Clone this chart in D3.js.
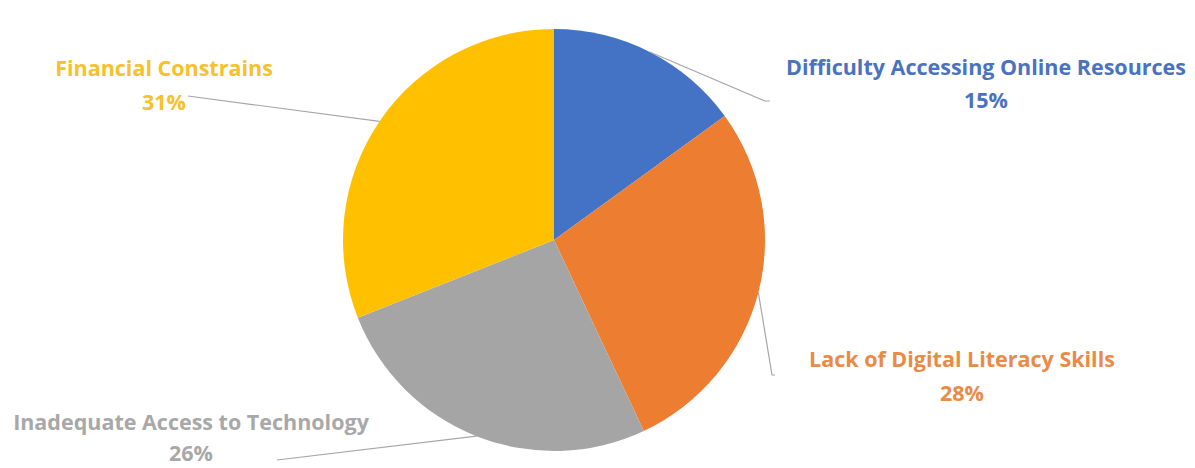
<!DOCTYPE html>
<html>
<head>
<meta charset="utf-8">
<script src="https://cdn.jsdelivr.net/npm/d3@7"></script>
<style>
  html, body { margin: 0; padding: 0; background: #ffffff; }
  svg { display: block; }
  text { font-family: "Open Sans", Lato, sans-serif; font-weight: 700; }
</style>
</head>
<body>
<svg id="chart" width="1195" height="468"></svg>
<script>
// ---- data ----
const categories = [
  "Difficulty Accessing Online Resources",
  "Lack of Digital Literacy Skills",
  "Inadequate Access to Technology",
  "Financial Constrains"
];
const values = [15, 28, 26, 31];
const colors = ["#4472C4", "#ED7D31", "#A5A5A5", "#FFC000"];
const textColors = ["#4A72C0", "#EB8A45", "#A8A8A8", "#F7C12A"];

// ---- layout (label anchors & leader-line elbows) ----
const labelCenters = [[986, 75], [962, 367], [191, 430], [164, 76]];
const lineSpacings = [33, 34, 31, 34];
const leaderEnds = [
  [[765, 101], [770, 101]],
  [[772, 375], [775, 375]],
  [[277, 460]],
  [[188, 96]]
];

const width = 1195, height = 468;
const cx = 554, cy = 240, r = 211;

const svg = d3.select("#chart");
const g = svg.append("g").attr("transform", `translate(${cx},${cy})`);

const pie = d3.pie().sort(null).value(d => d)(values);
const arc = d3.arc().innerRadius(0).outerRadius(r);
const edge = d3.arc().innerRadius(r).outerRadius(r);

g.selectAll("path.slice")
  .data(pie)
  .enter().append("path")
  .attr("class", "slice")
  .attr("d", arc)
  .attr("fill", (d, i) => colors[i])
  .attr("stroke", "none");

// leader lines
const line = d3.line();
pie.forEach((d, i) => {
  const c = edge.centroid(d);
  const pts = [[c[0] + cx, c[1] + cy]].concat(leaderEnds[i]);
  svg.append("path")
    .attr("d", line(pts))
    .attr("fill", "none")
    .attr("stroke", "#A6A6A6")
    .attr("stroke-width", 1.2);
});

// labels
pie.forEach((d, i) => {
  const [lx, ly] = labelCenters[i];
  const t = svg.append("text")
    .attr("text-anchor", "middle")
    .attr("fill", textColors[i])
    .attr("font-size", 21.5);
  t.append("tspan").attr("x", lx).attr("y", ly).text(categories[i]);
  t.append("tspan").attr("x", lx).attr("y", ly + lineSpacings[i])
    .text(d3.format(".0%")(values[i] / d3.sum(values)));
});
</script>
</body>
</html>
